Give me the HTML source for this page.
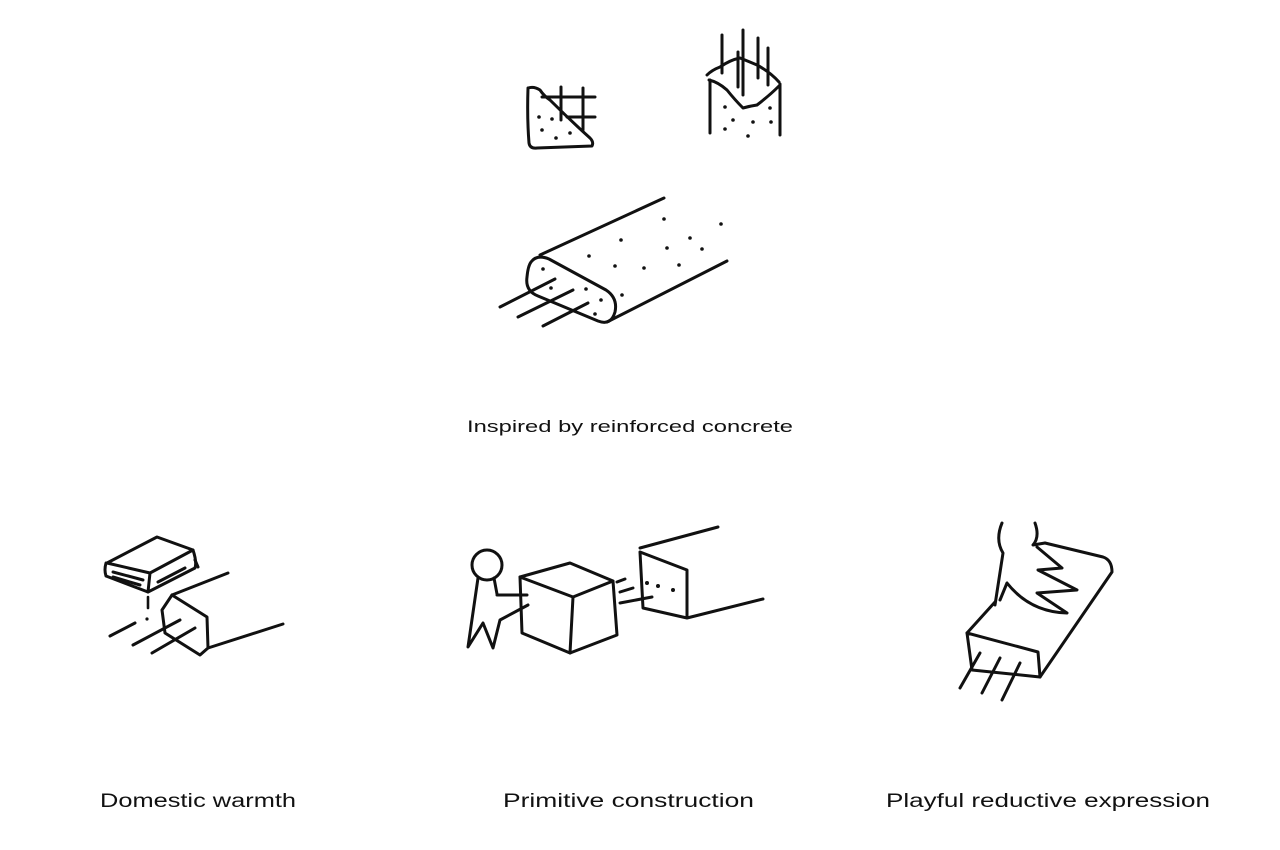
<!DOCTYPE html>
<html><head><meta charset="utf-8"><style>
html,body{margin:0;padding:0;background:#fff;}
svg{display:block;}
text{font-family:"Liberation Sans",sans-serif;fill:#111;}
</style></head><body>
<svg width="1280" height="850" viewBox="0 0 1280 850">
<g fill="none" stroke="#111" stroke-width="3" stroke-linecap="round" stroke-linejoin="round">
<!-- grid slab -->
<path d="M528 88 Q527 118 529 143 Q530 149 537 148 L592 146 Q594 142 590 138 Q570 120 550 100 Q544 96 540 90 Q534 86 528 88"/>
<path d="M561 87 L561 120 M583 88 L583 130 M542 97 L595 97 M567 117 L595 117"/>
<!-- column -->
<path d="M710 80 L710 133 M780 84 L780 135"/>
<path d="M707 75 Q712 70 720 67 Q730 60 740 58 Q750 62 757 65 Q770 72 779 82"/>
<path d="M709 80 Q718 82 727 90 Q735 100 743 108 Q750 106 757 105 Q770 95 779 86"/>
<path d="M722 35 L722 73 M743 30 L743 95 M758 38 L758 78 M768 48 L768 85 M738 52 L738 87"/>
<!-- beam -->
<path d="M540 255 L664 198 M607 322 L727 261"/>
<path d="M531 262 Q537 254 549 259 L606 290 Q618 298 615 312 Q611 326 598 321 L538 296 Q525 291 527 277 Q528 266 531 262 Z"/>
<path d="M500 307 L555 279 M518 317 L573 290 M543 326 L588 303"/>
<!-- book -->
<path d="M107 563 L157 537 L193 550 L150 573 Z"/>
<path d="M106 563 Q104 570 106 576 L148 592 L195 568 Q197 562 193 550"/>
<path d="M150 573 L148 592 M113 572 L143 580 M113 577 L140 585 M158 582 L185 568 M195 560 L198 567"/>
<path d="M148 597 L148 608" stroke-width="2.6"/>
<path d="M172 595 L228 573 M208 648 L283 624"/>
<path d="M172 595 L207 617 L208 648 L200 655 L165 633 L162 610 Z"/>
<path d="M110 636 L135 623 M133 645 L180 620 M152 653 L195 628"/>
<!-- person + cube -->
<circle cx="487" cy="565" r="15"/>
<path d="M478 578 L468 647 L483 623 L493 648 L500 620 L528 605 M497 595 L527 595 M494 578 L497 594"/>
<path d="M520 577 L573 597 L570 653 L522 633 Z"/>
<path d="M520 577 L570 563 L613 581 L573 597 M613 581 L617 635 L570 653"/>
<path d="M617 582 L625 579 M620 592 L633 588 M620 603 L652 597"/>
<path d="M640 552 L687 570 L687 618 L643 608 Z M640 548 L718 527 M687 618 L763 599"/>
<!-- playful -->
<path d="M967 633 L1038 652 L1040 677 L972 670 Z"/>
<path d="M967 633 L995 602 M1045 543 L1103 557 Q1112 560 1112 572 L1040 677"/>
<path d="M1002 523 Q995 540 1003 553 L995 605 M1035 523 Q1040 537 1033 545 L1045 543"/>
<path d="M1037 547 L1062 568 L1038 570 L1077 590 L1037 593 L1067 613 Q1030 612 1007 583 L1000 600"/>
<path d="M960 688 L980 653 M982 693 L1000 658 M1002 700 L1020 663"/>
</g>
<g fill="#111">
<circle cx="539" cy="117" r="1.8"/><circle cx="552" cy="119" r="1.8"/><circle cx="542" cy="130" r="1.8"/><circle cx="556" cy="138" r="1.8"/><circle cx="570" cy="133" r="1.8"/>
<circle cx="725" cy="107" r="1.8"/><circle cx="733" cy="120" r="1.8"/><circle cx="725" cy="129" r="1.8"/><circle cx="748" cy="136" r="1.8"/><circle cx="753" cy="122" r="1.8"/><circle cx="771" cy="122" r="1.8"/><circle cx="770" cy="108" r="1.8"/>
<circle cx="664" cy="219" r="1.8"/><circle cx="721" cy="224" r="1.8"/><circle cx="621" cy="240" r="1.8"/><circle cx="690" cy="238" r="1.8"/><circle cx="667" cy="248" r="1.8"/><circle cx="702" cy="249" r="1.8"/><circle cx="589" cy="256" r="1.8"/><circle cx="615" cy="266" r="1.8"/><circle cx="644" cy="268" r="1.8"/><circle cx="679" cy="265" r="1.8"/><circle cx="543" cy="269" r="1.8"/><circle cx="551" cy="288" r="1.8"/><circle cx="586" cy="289" r="1.8"/><circle cx="601" cy="300" r="1.8"/><circle cx="622" cy="295" r="1.8"/><circle cx="595" cy="314" r="1.8"/>
<circle cx="147" cy="619" r="1.6"/>
<circle cx="647" cy="583" r="2"/><circle cx="658" cy="586" r="2"/><circle cx="673" cy="590" r="2"/>
</g>
<text x="630" y="432" font-size="17" text-anchor="middle" textLength="326" lengthAdjust="spacingAndGlyphs">Inspired by reinforced concrete</text>
<text x="100" y="807" font-size="19" textLength="196" lengthAdjust="spacingAndGlyphs">Domestic warmth</text>
<text x="503" y="807" font-size="19" textLength="251" lengthAdjust="spacingAndGlyphs">Primitive construction</text>
<text x="886" y="807" font-size="19" textLength="324" lengthAdjust="spacingAndGlyphs">Playful reductive expression</text>
</svg>
</body></html>
